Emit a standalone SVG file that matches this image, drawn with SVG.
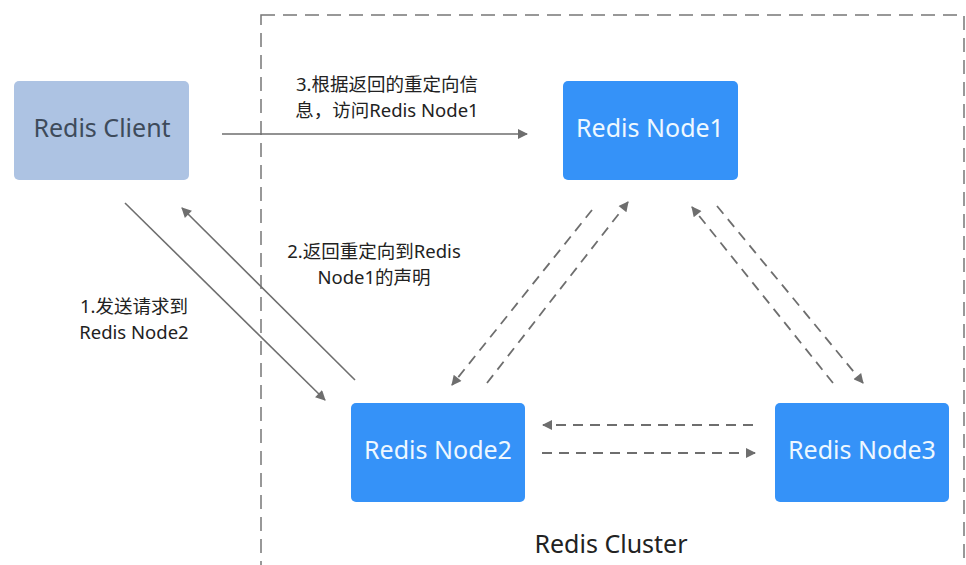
<svg xmlns="http://www.w3.org/2000/svg" width="966" height="565" viewBox="0 0 966 565">
<style>
.node{fill:#3592f8}
.client{fill:#adc3e3}
.ntext{font-family:"Noto Sans","Liberation Sans",sans-serif;font-size:25px;fill:#eef8ff;text-anchor:middle}
.ctext{font-family:"Noto Sans","Liberation Sans",sans-serif;font-size:25px;fill:#3e4b5b;text-anchor:middle}
.lbl{font-family:"Noto Sans","Noto Sans CJK SC",sans-serif;font-size:18.5px;fill:#222;text-anchor:middle}
.solid{stroke:#6e6e6e;stroke-width:1.6;fill:none;marker-end:url(#ah)}
.dash{stroke:#6e6e6e;stroke-width:1.8;fill:none;stroke-dasharray:10 7;marker-end:url(#ah)}
</style>
<defs>
<marker id="ah" viewBox="0 0 10 10" refX="9" refY="5" markerWidth="12" markerHeight="10" markerUnits="userSpaceOnUse" orient="auto">
<path d="M0,0 L10,5 L0,10 Z" fill="#6e6e6e"/>
</marker>
</defs>
<rect width="966" height="565" fill="#ffffff"/>
<g id="cluster">
<rect x="261" y="15" width="703" height="600" fill="none" stroke="#777" stroke-width="1.5" stroke-dasharray="14 8"/>
<text class="lbl" x="611" y="553" style="font-size:25px">Redis Cluster</text>
</g>
<g id="connectors">
<line class="solid" x1="222" y1="134" x2="527" y2="134"/>
<line class="solid" x1="125" y1="203" x2="325" y2="400"/>
<line class="solid" x1="355" y1="380" x2="182" y2="208"/>
<line class="dash" x1="592" y1="210" x2="452" y2="385"/>
<line class="dash" x1="487" y1="383" x2="628" y2="202"/>
<line class="dash" x1="717" y1="206" x2="863" y2="383"/>
<line class="dash" x1="833" y1="383" x2="692" y2="207"/>
<line class="dash" x1="753" y1="425" x2="543" y2="425"/>
<line class="dash" x1="542" y1="453" x2="755" y2="453"/>
</g>
<g id="labels">
<text class="lbl" x="387" y="91">3.根据返回的重定向信</text>
<text class="lbl" x="387" y="117">息，访问Redis Node1</text>
<text class="lbl" x="374" y="258">2.返回重定向到Redis</text>
<text class="lbl" x="374" y="284">Node1的声明</text>
<text class="lbl" x="134" y="313">1.发送请求到</text>
<text class="lbl" x="134" y="339">Redis Node2</text>
</g>
<g id="client">
<rect class="client" x="14" y="81" width="175" height="99" rx="5"/>
<text class="ctext" x="102" y="137">Redis Client</text>
</g>
<g id="node1">
<rect class="node" x="563" y="81" width="175" height="99" rx="5"/>
<text class="ntext" x="650" y="137">Redis Node1</text>
</g>
<g id="node2">
<rect class="node" x="351" y="403" width="174" height="99" rx="5"/>
<text class="ntext" x="438" y="459">Redis Node2</text>
</g>
<g id="node3">
<rect class="node" x="775" y="403" width="174" height="99" rx="5"/>
<text class="ntext" x="862" y="459">Redis Node3</text>
</g>
</svg>
